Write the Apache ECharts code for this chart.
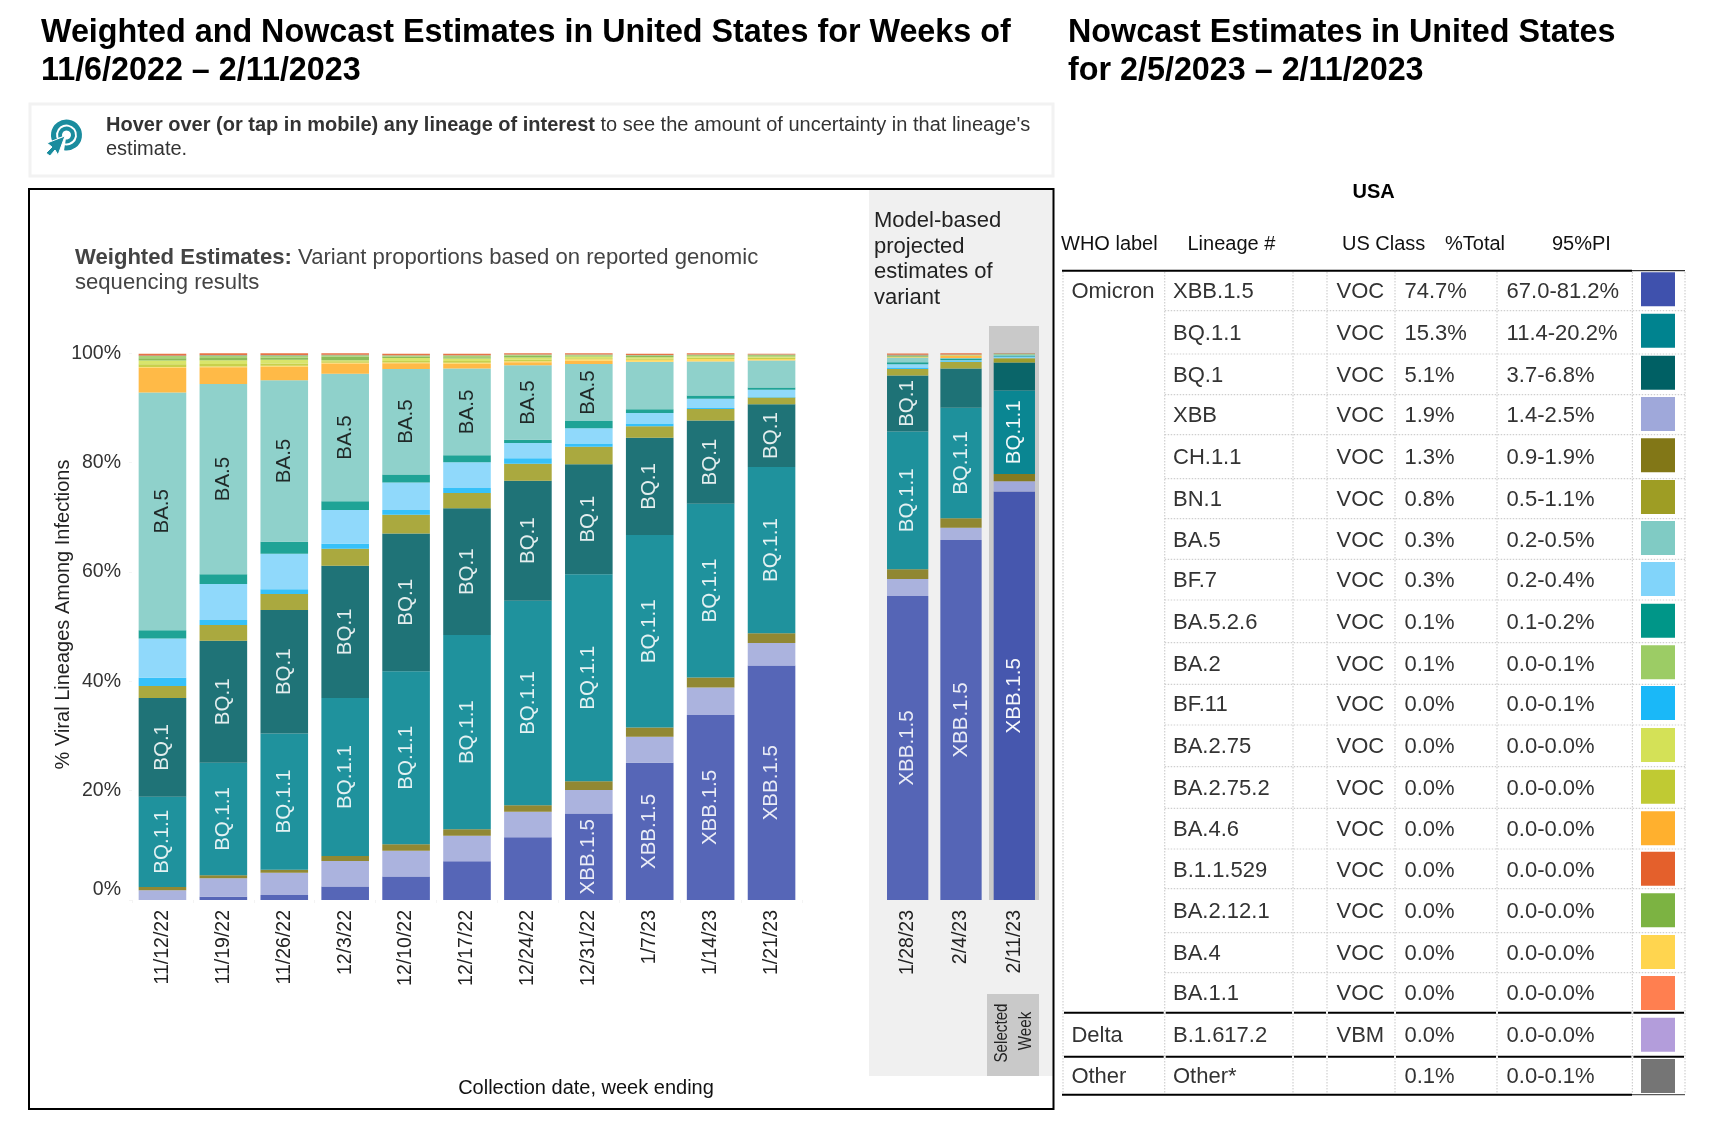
<!DOCTYPE html>
<html><head><meta charset="utf-8">
<style>html,body{margin:0;padding:0;background:#fff}#c{width:1722px;height:1126px}</style>
<script src="https://cdn.jsdelivr.net/npm/echarts@6/dist/echarts.min.js"></script>
</head><body><div id="c"></div>
<script>
const weeks = ['11/12/22','11/19/22','11/26/22','12/3/22','12/10/22','12/17/22','12/24/22','12/31/22','1/7/23','1/14/23','1/21/23','1/28/23','2/4/23','2/11/23'];
const xbb15 = [0,0.6,0.9,2.45,4.3,7.1,11.5,15.8,25.1,33.85,42.9,55.6,65.85,74.7];
const xbb   = [1.8,3.4,4.1,4.7,4.7,4.65,4.65,4.3,4.75,5.0,4.1,3.1,2.25,1.9];
const ch11  = [0.6,0.55,0.55,0.9,1.2,1.2,1.2,1.6,1.7,1.85,1.8,1.8,1.75,1.3];
const bq11  = [16.5,20.55,24.9,28.9,31.65,35.5,37.4,37.9,35.2,31.8,30.4,25.2,20.2,15.3];
const bq1   = [18.05,22.3,22.6,24.2,25.2,23.2,21.95,20.1,17.8,15.2,11.5,10.25,7.15,5.1];
const bn1   = [2.2,2.9,2.9,3.1,3.4,2.8,3.1,3.2,2.1,2.1,1.2,1.2,1.2,0.8];
const bf11  = [1.5,0.9,0.9,0.9,0.9,0.9,1.0,0.6,0.5,0.2,0.1,0.25,0.15,0];
const bf7   = [7.2,6.6,6.5,6.2,5.0,4.7,2.8,2.8,1.95,1.7,1.35,0.6,0.2,0.3];
const ba526 = [1.5,1.8,2.2,1.6,1.5,1.3,0.6,1.3,0.65,0.6,0.4,0.35,0.3,0.1];
const ba5   = [43.5,34.8,29.5,23.3,19.3,15.85,13.6,10.45,8.65,6.2,4.95,0.85,0.1,0.3];
const ba46  = [4.5,3.05,2.5,1.9,1.05,0.9,0.55,0.6,0.05,0.05,0.03,0.02,0.4,0];
const ba4   = [0.15,0.15,0.15,0.1,0.1,0.15,0.2,0.25,0.35,0.4,0.25,0.05,0.05,0];
const ba2752= [0.5,0.45,0.45,0.3,0.3,0.35,0.3,0.2,0.2,0.25,0.25,0.05,0.02,0];
const ba275 = [0.7,0.7,0.65,0.2,0.55,0.45,0.4,0.3,0.3,0.25,0.2,0.05,0.02,0];
const ba2121= [0.4,0.4,0.4,0.6,0.25,0.25,0.3,0.2,0.25,0.2,0.2,0.15,0.04,0];
const ba2   = [0.4,0.45,0.4,0.3,0.2,0.3,0.2,0.15,0.1,0.1,0.1,0.1,0.05,0.1];
const b11529= [0.3,0.3,0.3,0.25,0.25,0.25,0.25,0.2,0.2,0.25,0.15,0.25,0.22,0.05];
const other = [0.1,0.1,0.1,0.1,0.05,0.05,0.05,0.05,0.05,0.05,0.05,0.1,0.05,0.05];

// table
const tableLineages = ['XBB.1.5','BQ.1.1','BQ.1','XBB','CH.1.1','BN.1','BA.5','BF.7','BA.5.2.6','BA.2','BF.11','BA.2.75','BA.2.75.2','BA.4.6','B.1.1.529','BA.2.12.1','BA.4','BA.1.1','B.1.617.2','Other*'];
const tableClass = ['VOC','VOC','VOC','VOC','VOC','VOC','VOC','VOC','VOC','VOC','VOC','VOC','VOC','VOC','VOC','VOC','VOC','VOC','VBM',''];
const tableTotal = ['74.7%','15.3%','5.1%','1.9%','1.3%','0.8%','0.3%','0.3%','0.1%','0.1%','0.0%','0.0%','0.0%','0.0%','0.0%','0.0%','0.0%','0.0%','0.0%','0.1%'];
const tablePI = ['67.0-81.2%','11.4-20.2%','3.7-6.8%','1.4-2.5%','0.9-1.9%','0.5-1.1%','0.2-0.5%','0.2-0.4%','0.1-0.2%','0.0-0.1%','0.0-0.1%','0.0-0.0%','0.0-0.0%','0.0-0.0%','0.0-0.0%','0.0-0.0%','0.0-0.0%','0.0-0.0%','0.0-0.0%','0.0-0.1%'];
const tableColors = ['#3f51ad','#00838f','#006064','#9fa8da','#827717','#9e9d24','#80cbc4','#81d4fa','#009688','#9ccc65','#1ab8f8','#d4e157','#c0ca33','#ffb02e','#e4602c','#7cb342','#ffd54f','#ff7f50','#b39ddb','#757575'];
const colorOf = Object.fromEntries(tableLineages.map((n,i)=>[n,tableColors[i]]));

const stackOrder = [['XBB.1.5',xbb15],['XBB',xbb],['CH.1.1',ch11],['BQ.1.1',bq11],['BQ.1',bq1],['BN.1',bn1],['BF.11',bf11],['BF.7',bf7],['BA.5.2.6',ba526],['BA.5',ba5],['BA.4.6',ba46],['BA.4',ba4],['BA.2.75.2',ba2752],['BA.2.75',ba275],['BA.2.12.1',ba2121],['BA.2',ba2],['Other*',other],['B.1.1.529',b11529]];
const labelled = {
 'XBB.1.5':['12/31/22','1/7/23','1/14/23','1/21/23','1/28/23','2/4/23','2/11/23'],
 'BQ.1.1':weeks,
 'BQ.1':weeks.slice(0,12),
 'BA.5':weeks.slice(0,8)
};
const labelColor = {'XBB.1.5':'#fff','BQ.1.1':'#fff','BQ.1':'#fff','BA.5':'#111'};
const FONT = '"Liberation Sans", Arial, Helvetica, sans-serif';

function buildSeries(idx, from, to, width){
  return stackOrder.map(([name,vals])=>({
    name, type:'bar', stack:'s'+idx, xAxisIndex:idx, yAxisIndex:idx, barWidth:width,
    silent:true,
    itemStyle:{color:colorOf[name]},
    data: vals.slice(from,to).map((v,i)=>{
      const wk = weeks[from+i];
      const on = (labelled[name]||[]).includes(wk);
      return {value:v,
        itemStyle:{opacity: wk==='2/11/23'?0.95:0.88},
        label:{show:on,position:'inside',rotate:90,formatter:name,color:labelColor[name],fontSize:20.5,fontFamily:FONT,padding:[2,0,0,0]}};
    })
  }));
}

const T = (text,x,y,o={})=>({type:'text',x,y,rotation:o.rotation||0,scaleX:o.scaleX||1,z:o.z||20,silent:true,
  style:Object.assign({text,fontFamily:FONT,fontSize:o.size||20,fontWeight:o.weight||'normal',fill:o.fill||'#222',
    align:o.align||'left',textAlign:o.align||'left',verticalAlign:'middle',textVerticalAlign:'middle'},o.style||{})});
const R = (x,y,w,h,fill,o={})=>({type:'rect',z:o.z==null?0:o.z,silent:true,shape:{x,y,width:w,height:h},style:Object.assign({fill},o.style||{})});
const L = (x1,y1,x2,y2,stroke,lw,dash,z)=>({type:'line',z:z||5,silent:true,shape:{x1,y1,x2,y2},style:{stroke,lineWidth:lw,lineDash:dash||null}});

const g = [];
// titles
g.push(T('Weighted and Nowcast Estimates in United States for Weeks of',41,33,{size:32.3,weight:'bold',fill:'#000'}));
g.push(T('11/6/2022 – 2/11/2023',41,71,{size:32.3,weight:'bold',fill:'#000'}));
g.push(T('Nowcast Estimates in United States',1068,33,{size:32.3,weight:'bold',fill:'#000'}));
g.push(T('for 2/5/2023 – 2/11/2023',1068,71,{size:32.3,weight:'bold',fill:'#000'}));
// notice box
g.push({type:'rect',z:1,silent:true,shape:{x:30,y:104,width:1023,height:72},style:{fill:'#fff',stroke:'#f2f2f2',lineWidth:3}});
g.push(T('{b|Hover over (or tap in mobile) any lineage of interest}{n| to see the amount of uncertainty in that lineage\'s}',106,125,{style:{rich:{
  b:{fontFamily:FONT,fontSize:20,fontWeight:'bold',fill:'#333',color:'#333'},n:{fontFamily:FONT,fontSize:20,fill:'#333',color:'#333'}}}}));
g.push(T('estimate.',106,149,{size:20,fill:'#333'}));
// icon
const teal='#1a8c9e';
g.push({type:'arc',z:3,silent:true,shape:{cx:66.5,cy:135,r:13,startAngle:Math.PI*0.8,endAngle:Math.PI*0.55},style:{stroke:teal,lineWidth:5,fill:null}});
g.push({type:'arc',z:3,silent:true,shape:{cx:66.5,cy:135,r:6.5,startAngle:Math.PI*0.9,endAngle:Math.PI*0.55},style:{stroke:teal,lineWidth:4,fill:null}});
g.push({type:'polygon',z:4,silent:true,shape:{points:[[65,136],[58,155],[55,150],[50,156],[46,153],[52,147],[47,143]]},style:{fill:teal,stroke:'#fff',lineWidth:1}});
// frame
g.push(R(869,188,185,888,'#f0f0f0',{z:0}));
g.push(R(989,326,50,574,'#c9c9c9',{z:1}));
g.push(R(987,994,52,82,'#c9c9c9',{z:1}));
g.push({type:'rect',z:6,silent:true,shape:{x:29,y:189,width:1024.5,height:920},style:{fill:null,stroke:'#000',lineWidth:2}});
// captions
g.push(T('{b|Weighted Estimates:}{n| Variant proportions based on reported genomic}',75,257.5,{style:{rich:{
  b:{fontFamily:FONT,fontSize:22.1,fontWeight:'bold',fill:'#444',color:'#444'},n:{fontFamily:FONT,fontSize:22.1,fill:'#444',color:'#444'}}}}));
g.push(T('sequencing results',75,283,{size:22.1,fill:'#444'}));
['Model-based','projected','estimates of','variant'].forEach((t,i)=>g.push(T(t,874,221+i*25.6,{size:22,fill:'#222'})));
g.push(T('% Viral Lineages Among Infections',63,614.5,{size:20,rotation:Math.PI/2,align:'center'}));
g.push(T('Collection date, week ending',586,1088,{size:20,align:'center',fill:'#111'}));
g.push(T('Selected',1002,1033,{size:19,rotation:Math.PI/2,align:'center',scaleX:0.8}));
g.push(T('Week',1026,1031,{size:19,rotation:Math.PI/2,align:'center',scaleX:0.8}));
// table
const rowY=[292,334.3,376.3,416.3,458.3,500,541,581,623.3,665.3,705.3,747.3,788.7,830,870.7,912,954,994,1036,1077.3];
const swatchY=[272.3,313.7,355.7,397,438.3,480,521,562,603.7,645.3,686,728,769.7,811.3,851.7,893.3,935,976,1017.7,1059];
const rowLines=[310.7,354,394.7,434.7,478.7,518.7,559.3,600,642.7,684.3,725,766.7,808.3,849,888.7,932.7,972.7];
const colX=[1063,1164.7,1293,1327,1395,1497,1632.4,1685];
g.push(T('USA',1373.6,192.5,{size:20,weight:'bold',align:'center',fill:'#000'}));
[['WHO label',1061],['Lineage #',1187.5],['US Class',1342],['%Total',1445],['95%PI',1552]].forEach(([t,x])=>g.push(T(t,x,244,{size:20,fill:'#111'})));
tableLineages.forEach((n,i)=>{
  const y=rowY[i], c='#333';
  g.push(T(n,1173,y,{size:22,fill:c}));
  if(tableClass[i]) g.push(T(tableClass[i],1336.5,y,{size:22,fill:c}));
  g.push(T(tableTotal[i],1404.5,y,{size:22,fill:c}));
  g.push(T(tablePI[i],1506.6,y,{size:22,fill:c}));
  g.push(R(1641,swatchY[i],34,34,tableColors[i],{z:3}));
});
g.push(T('Omicron',1071.4,292,{size:22,fill:'#333'}));
g.push(T('Delta',1071.4,1036,{size:22,fill:'#333'}));
g.push(T('Other',1071.4,1077.3,{size:22,fill:'#333'}));
colX.forEach(x=>g.push(L(x,272,x,1094,'#cfcfcf',1.2,[1.5,1.5],2)));
rowLines.forEach(y=>{
  g.push(L(1164.7,y,1685,y,'#cfcfcf',1.2,[1.5,1.5],2));
});
g.push(L(1062,270.7,1632,270.7,'#000',2));
g.push(L(1632,270.7,1685,270.7,'#000',1));
[1012.7,1056.7].forEach(y=>{
  for(let i=0;i<colX.length-1;i++) g.push(L(colX[i]+1,y,colX[i+1]-1,y,'#000',2));
});
g.push(L(1062,1094.7,1632,1094.7,'#000',2));
g.push(L(1632,1094.7,1685,1094.7,'#333',1));

const axisText={fontFamily:FONT,fontSize:19.5,color:'#222'};
const xA=(gridIndex,data)=>({type:'category',gridIndex,data,axisLine:{show:false},
  axisTick:{show:gridIndex===0,length:3,lineStyle:{color:'#f4f4f4'}},
  axisLabel:Object.assign({rotate:90,interval:0,margin:10,hideOverlap:false,padding:[gridIndex===0?4:1,0,0,0]},axisText)});
const option={
  animation:false,
  backgroundColor:'#fff',
  grid:[{left:132,top:353.3,width:670,height:546.7},{left:881,top:353.3,width:160,height:546.7}],
  xAxis:[xA(0,weeks.slice(0,11)),xA(1,weeks.slice(11))],
  yAxis:[
    {type:'value',gridIndex:0,min:0,max:100,interval:20,splitLine:{show:false},axisLine:{show:false},
      axisTick:{show:true,length:3,lineStyle:{color:'#f4f4f4'}},
      axisLabel:Object.assign({formatter:'{value}%',margin:11,verticalAlignMinLabel:'bottom'},axisText,{color:'#333',fontSize:19.5})},
    {type:'value',gridIndex:1,min:0,max:100,interval:20,show:false,splitLine:{show:false}}
  ],
  series:[...buildSeries(0,0,11,47.6),...buildSeries(1,11,14,41.3)],
  graphic:{elements:g}
};
const chart=echarts.init(document.getElementById('c'),null,{width:1722,height:1126});
chart.setOption(option);
</script></body></html>
